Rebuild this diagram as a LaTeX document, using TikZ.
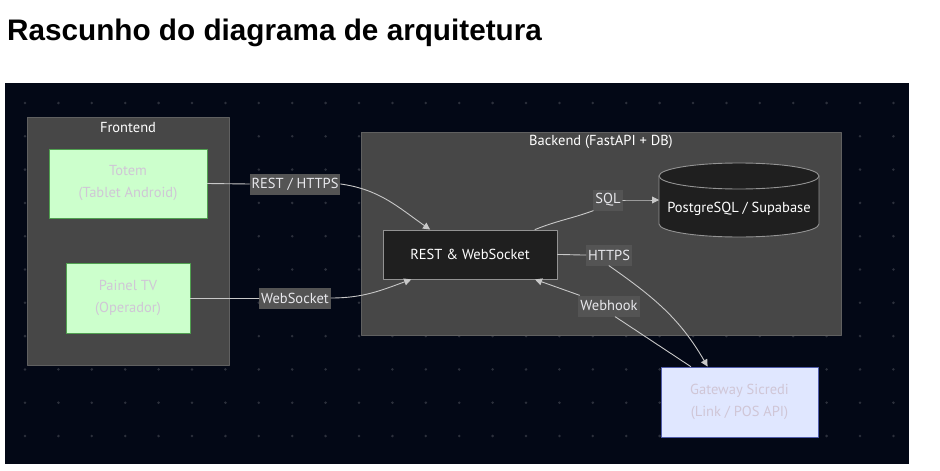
\documentclass[tikz,border=0pt]{standalone}
\usepackage{fontspec}
\setmainfont{PT Sans}
\newfontfamily\titlefont{Liberation Sans}
\usetikzlibrary{arrows.meta}
\definecolor{bgnavy}{RGB}{3,8,22}
\definecolor{dotgray}{RGB}{44,48,60}
\definecolor{clusterfill}{RGB}{71,71,71}
\definecolor{clusterline}{RGB}{96,96,96}
\definecolor{greenfill}{RGB}{204,255,204}
\definecolor{greenline}{RGB}{80,160,80}
\definecolor{bluefill}{RGB}{224,231,255}
\definecolor{blueline}{RGB}{80,92,170}
\definecolor{paletext}{RGB}{208,198,214}
\definecolor{darkfill}{RGB}{31,31,31}
\definecolor{edgegray}{RGB}{200,200,200}
\definecolor{lblfill}{RGB}{84,84,84}
\definecolor{lbltext}{RGB}{232,232,236}

\begin{document}
\begin{tikzpicture}[x=1pt,y=-1pt,line cap=round,line join=round,
	cluster/.style={draw=clusterline,fill=clusterfill,line width=0.8pt},
	greenbox/.style={draw=greenline,fill=greenfill,line width=0.9pt,text=paletext,align=center,font=\fontsize{14.5}{22}\selectfont},
	bluebox/.style={draw=blueline,fill=bluefill,line width=0.9pt,text=paletext,align=center,font=\fontsize{14.5}{22}\selectfont},
	darkbox/.style={draw=gray!85,fill=darkfill,line width=0.9pt,text=white,font=\fontsize{14.5}{18}\selectfont},
	lbl/.style={fill=lblfill,text=lbltext,inner sep=2pt,minimum height=21pt,font=\fontsize{14.5}{18}\selectfont},
	edge/.style={draw=edgegray,line width=0.9pt},
	arr/.style={edge,-{Triangle[length=7pt,width=7pt]}}]
		\useasboundingbox (0,0) rectangle (940,471);
		\fill[white] (0,0) rectangle (940,471);
		\node[anchor=base west,inner sep=0pt,font=\titlefont\bfseries\fontsize{29.7}{34}\selectfont] (title) at (7,40) {Rascunho do diagrama de arquitetura};
		\fill[bgnavy] (5,83) rectangle (909,464);
		\foreach \i in {0,...,26}
		\foreach \j in {0,...,10}
		\fill[dotgray] (25+33.4*\i,103+33.3*\j) circle (1.4);
		% clusters
		\draw[cluster] (27,117) rectangle (229,365);
		\node[text=white,font=\fontsize{14.5}{18}\selectfont] (frontend) at (128,128) {Frontend};
		\draw[cluster] (361,132) rectangle (841,335);
		\node[text=white,font=\fontsize{14.5}{18}\selectfont] (backend) at (601,142) {Backend (FastAPI + DB)};
		% nodes
		\node[greenbox,minimum width=158,minimum height=69] (totem) at (128,183.5) {Totem\\(Tablet Android)};
		\node[greenbox,minimum width=124,minimum height=70] (painel) at (128,298) {Painel TV\\(Operador)};
		\node[darkbox,minimum width=174,minimum height=49] (rest) at (470,254.5) {REST \& WebSocket};
		\node[bluebox,minimum width=157,minimum height=70] (gw) at (739.5,402) {Gateway Sicredi\\(Link / POS API)};
		% database cylinder
		\filldraw[draw=gray!85,fill=darkfill,line width=0.9pt] (659,176) -- (659,224) arc[start angle=180,end angle=0,x radius=80,y radius=13] -- (819,176) -- cycle;
		\draw[draw=gray!85,fill=darkfill,line width=0.9pt] (739,176) ellipse [x radius=80,y radius=13];
		\node[text=white,minimum width=160,minimum height=74,font=\fontsize{14.5}{18}\selectfont] (db) at (739,209) {PostgreSQL / Supabase};
		\coordinate (dbw) at (659,200);
		% edge labels
		\node[lbl] (l1) at (295,184) {REST / HTTPS};
		\node[lbl] (l2) at (295,298) {WebSocket};
		\node[lbl] (lsql) at (608,200) {SQL};
		\node[lbl] (lhttps) at (609,255) {HTTPS};
		\node[lbl] (lwh) at (609,306) {Webhook};
		% edges
		\draw[edge] (totem.east) -- (l1.west);
		\draw[arr] (l1.east) to[out=-8,in=145] (rest.148);
		\draw[edge] (painel.east) -- (l2.west);
		\draw[arr] (l2.east) to[out=0,in=200] (rest.203);
		\draw[edge] (rest.21) to[out=22,in=200] (lsql.south west);
		\draw[arr] (lsql.east) to[out=0,in=180] (dbw);
		\draw[edge] (rest.east) to[out=0,in=180] (lhttps.west);
		\draw[arr] (lhttps.south) to[out=-35,in=120] (gw.132);
		\draw[edge] (gw.144) -- (lwh.-60);
		\draw[arr] (lwh.160) -- (rest.339);
	\end{tikzpicture}
\end{document}
